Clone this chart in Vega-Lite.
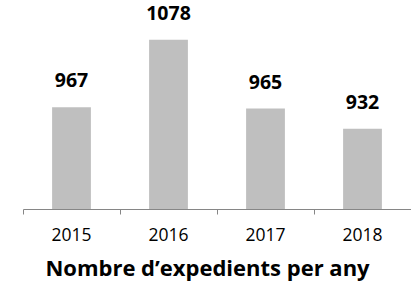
{
  "$schema": "https://vega.github.io/schema/vega-lite/v6.json",
  "autosize": "none",
  "width": 388,
  "height": 207,
  "padding": {"left": 23, "top": 2, "right": 0, "bottom": 77},
  "background": "white",
  "config": {"view": {"stroke": null}, "font": "Open Sans"},
  "data": {"values": [
    {"year": "2015", "count": 967},
    {"year": "2016", "count": 1078},
    {"year": "2017", "count": 965},
    {"year": "2018", "count": 932}
  ]},
  "encoding": {
    "x": {
      "field": "year", "type": "ordinal",
      "scale": {"paddingInner": 0, "paddingOuter": 0},
      "axis": {
        "title": "Nombre d’expedients per any",
        "titleFont": "Open Sans", "titleFontSize": 22, "titleFontWeight": "bold", "titleColor": "#000000",
        "titlePadding": 15, "titleX": 184,
        "labelAngle": 0, "labelFont": "Open Sans", "labelFontSize": 17.5, "labelColor": "#000000", "labelPadding": 12,
        "bandPosition": 0, "tickColor": "#868686", "tickSize": 5, "domainColor": "#868686", "domainWidth": 1, "tickWidth": 1,
        "grid": false
      }
    },
    "y": {
      "field": "count", "type": "quantitative",
      "scale": {"domain": [800, 1140], "zero": false, "nice": false},
      "axis": null
    }
  },
  "layer": [
    {"mark": {"type": "bar", "color": "#bfbfbf", "width": {"band": 0.4}, "clip": true}},
    {"mark": {"type": "text", "font": "Open Sans", "fontWeight": "bold", "fontSize": 19.5, "baseline": "bottom", "dy": -16, "color": "#000000"},
     "encoding": {"text": {"field": "count", "type": "quantitative"}}}
  ]
}
